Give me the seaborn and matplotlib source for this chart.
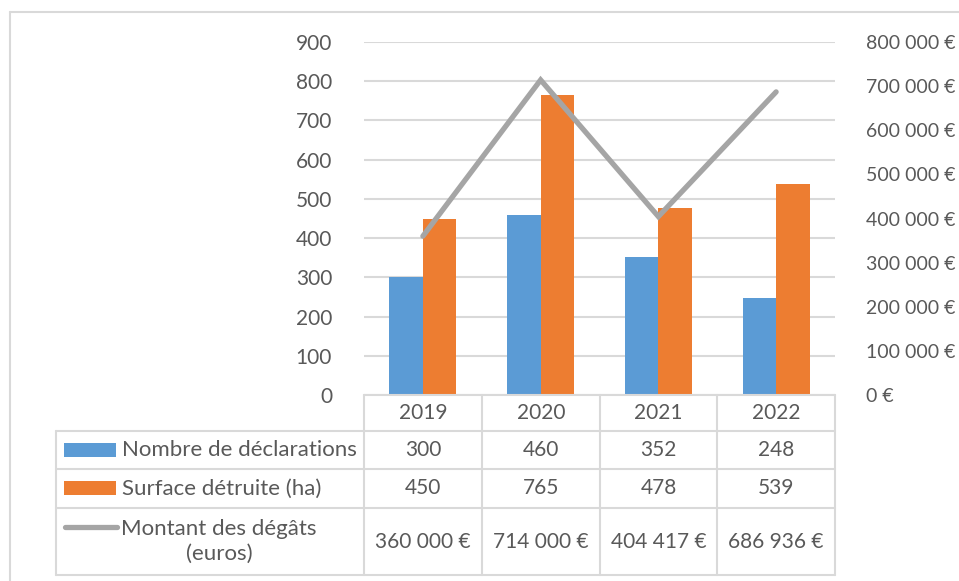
import numpy as np
import pandas as pd
import matplotlib
matplotlib.use("Agg")
import matplotlib.pyplot as plt
from matplotlib.ticker import FuncFormatter, MultipleLocator
from matplotlib.lines import Line2D
from matplotlib.patches import Rectangle
import seaborn as sns

# ---- data ----
years = ["2019", "2020", "2021", "2022"]
declarations = [300, 460, 352, 248]
surface = [450, 765, 478, 539]
montant = [360000, 714000, 404417, 686936]
series_names = ["Nombre de déclarations", "Surface détruite (ha)", "Montant des dégâts\n(euros)"]

BLUE = "#5B9BD5"
ORANGE = "#ED7D31"
GRAY = "#A5A5A5"
TXT = "#595959"
GRID = "#D9D9D9"

sns.set_theme(style="white")
plt.rcParams["font.family"] = ["Lato", "DejaVu Sans"]
FS = 15     # numbers
FSR = 14    # right axis
FSL = 16    # legend labels

W, H = 959, 581
fig = plt.figure(figsize=(W / 100, H / 100), dpi=100)


def fx(px):
    return px / W


def fy(py):
    return 1 - py / H


left, right, top, bottom = 364, 835, 42, 395
ax = fig.add_axes([fx(left), fy(bottom), fx(right) - fx(left), fy(top) - fy(bottom)])

df = pd.DataFrame({
    "year": years * 2,
    "value": declarations + surface,
    "series": [series_names[0]] * 4 + [series_names[1]] * 4,
})
sns.barplot(data=df, x="year", y="value", hue="series", order=years,
            hue_order=series_names[:2], palette=[BLUE, ORANGE],
            width=0.57, gap=0, ax=ax, legend=False, saturation=1,
            edgecolor="none", linewidth=0)
ax.set_xlim(-0.5, 3.5)
ax.set_ylim(0, 900)
ax.yaxis.set_major_locator(MultipleLocator(100))
ax.grid(axis="y", color=GRID, linewidth=1.5)
ax.set_axisbelow(True)
for s in ax.spines.values():
    s.set_visible(False)
ax.set_xlabel("")
ax.set_ylabel("")
ax.set_xticks([])
ax.tick_params(axis="y", length=0, pad=23, labelsize=FS, labelcolor=TXT)

ax2 = ax.twinx()
sns.lineplot(x=np.arange(len(years)), y=montant, ax=ax2, color=GRAY,
             linewidth=3.8, solid_capstyle="round", solid_joinstyle="miter")
ax2.set_ylim(0, 800000)
ax2.yaxis.set_major_locator(MultipleLocator(100000))
ax2.yaxis.set_major_formatter(FuncFormatter(lambda v, p: f"{int(v):,}".replace(",", " ") + " €"))
ax2.tick_params(axis="y", length=0, pad=22, labelsize=FSR, labelcolor=TXT)
ax2.grid(False)
for s in ax2.spines.values():
    s.set_visible(False)
ax2.set_xlim(-0.5, 3.5)

# ---- outer chart border ----
for (x0, y0, x1, y1) in [(10, 12, 959, 12), (10, 12, 10, 581)]:
    fig.add_artist(Line2D([fx(x0), fx(x1)], [fy(y0), fy(y1)], color=GRID, lw=1.5))

# ---- data table ----
cols = [364, 482, 600, 717, 835]
rows = [395, 431, 469, 508, 575]
lw = 1.5
fig.add_artist(Line2D([fx(cols[0]), fx(cols[-1])], [fy(rows[0])] * 2, color=GRID, lw=lw))
for r in rows[1:]:
    fig.add_artist(Line2D([fx(56), fx(cols[-1])], [fy(r)] * 2, color=GRID, lw=lw))
fig.add_artist(Line2D([fx(56)] * 2, [fy(rows[1]), fy(rows[-1])], color=GRID, lw=lw))
for c in cols:
    fig.add_artist(Line2D([fx(c)] * 2, [fy(rows[0]), fy(rows[-1])], color=GRID, lw=lw))

centers = [(cols[i] + cols[i + 1]) / 2 for i in range(4)]
row_c = [(rows[i] + rows[i + 1]) / 2 for i in range(4)]
for i, y in enumerate(years):
    fig.text(fx(centers[i]), fy(row_c[0]), y, ha="center", va="center", fontsize=FS, color=TXT)
    fig.text(fx(centers[i]), fy(row_c[1]), str(declarations[i]), ha="center", va="center", fontsize=FS, color=TXT)
    fig.text(fx(centers[i]), fy(row_c[2]), str(surface[i]), ha="center", va="center", fontsize=FS, color=TXT)
    fig.text(fx(centers[i]), fy(row_c[3]),
             f"{montant[i]:,}".replace(",", " ") + " €", ha="center", va="center", fontsize=FS, color=TXT)

# legend keys and labels
fig.add_artist(Rectangle((fx(64), fy(457)), fx(116) - fx(64), fy(443) - fy(457), color=BLUE, lw=0))
fig.add_artist(Rectangle((fx(64), fy(495)), fx(116) - fx(64), fy(481) - fy(495), color=ORANGE, lw=0))
fig.add_artist(Line2D([fx(65), fx(117)], [fy(527)] * 2, color=GRAY, lw=3.8, solid_capstyle="round"))
fig.text(fx(122), fy(row_c[1]), series_names[0], ha="left", va="center", fontsize=FSL, color=TXT)
fig.text(fx(122), fy(row_c[2]), series_names[1], ha="left", va="center", fontsize=FSL, color=TXT)
fig.text(fx(219), fy(row_c[3]), series_names[2], ha="center", va="center", fontsize=FSL, color=TXT,
         linespacing=1.35, multialignment="center")

fig.savefig("out.png", dpi=100)
